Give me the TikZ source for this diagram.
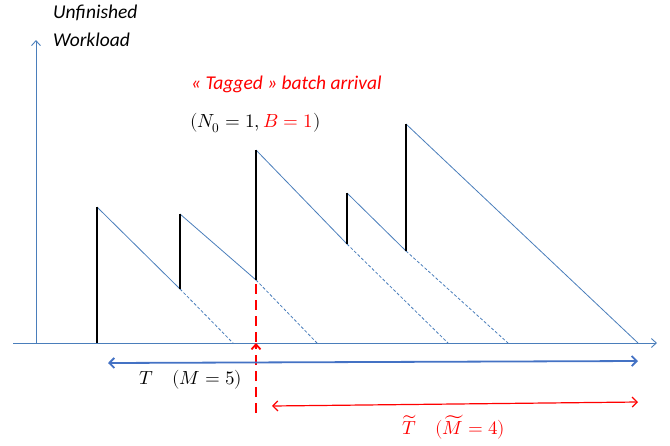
\documentclass[tikz,border=0pt]{standalone}
\usepackage{fontspec}
\usepackage{unicode-math}
\setmainfont{Carlito}
\setmathfont{Latin Modern Math}
\usetikzlibrary{arrows.meta}
\definecolor{lineblue}{RGB}{74,126,187}
\definecolor{arrowblue}{RGB}{68,114,196}
\definecolor{tagred}{RGB}{255,0,0}
\tikzset{
  axisline/.style={lineblue, line width=0.9pt, -{Straight Barb[length=5pt,width=9pt]}},
  decay/.style={lineblue, line width=0.8pt},
  decaydash/.style={lineblue, line width=0.8pt, dash pattern=on 3pt off 2pt},
  jump/.style={black, line width=2.2pt},
  lbl/.style={font=\fontsize{19.5}{22}\selectfont\itshape, inner sep=0pt, anchor=west},
  mlbl/.style={font=\fontsize{19}{22}\selectfont, inner sep=0pt, anchor=west},
}
\begin{document}
\begin{tikzpicture}[x=1pt,y=-1pt]
\useasboundingbox (0,0) rectangle (670,445);
% axes
\coordinate (o) at (36,343);
\coordinate (ytop) at (36,40);
\coordinate (xl) at (13,343);
\coordinate (xr) at (657,343);
\draw[axisline] (o) -- (ytop);
\draw[axisline] (xl) -- (xr);
\node[lbl] (ul1) at (53,13) {Unfinished};
\node[lbl] (ul2) at (53,40) {Workload};
% sawtooth points
\coordinate (a0) at (97,343);  \coordinate (a1) at (97,207);
\coordinate (b0) at (180,289); \coordinate (b1) at (180,214);
\coordinate (c0) at (256,280); \coordinate (c1) at (256,150);
\coordinate (d0) at (347,244); \coordinate (d1) at (347,193);
\coordinate (e0) at (406,251); \coordinate (e1) at (406,124);
\coordinate (aend) at (233,343);
\coordinate (bend) at (317,343);
\coordinate (cend) at (448,343);
\coordinate (dend) at (508,343);
\coordinate (eend) at (638,343);
% decays
\draw[decay] (a1) -- (b0);
\draw[decaydash] (b0) -- (aend);
\draw[decay] (b1) -- (c0);
\draw[decaydash] (c0) -- (bend);
\draw[decay] (c1) -- (d0);
\draw[decaydash] (d0) -- (cend);
\draw[decay] (d1) -- (e0);
\draw[decaydash] (e0) -- (dend);
\draw[decay] (e1) -- (eend);
% jumps
\draw[jump] (a0) -- (a1);
\draw[jump] (b0) -- (b1);
\draw[jump] (c0) -- (c1);
\draw[jump] (d0) -- (d1);
\draw[jump] (e0) -- (e1);
% tagged arrival
\coordinate (rbot) at (256,413);
\coordinate (rax) at (256,343);
\coordinate (rtop) at (256,284);
\draw[tagred, line width=1.8pt, dash pattern=on 10pt off 6pt] (rtop) -- (rax);
\draw[tagred, line width=1.8pt, dash pattern=on 10pt off 6pt, -{Straight Barb[length=5pt,width=9pt]}] (rbot) -- (rax);
\node[lbl, text=tagred] (tag) at (191,84) {« Tagged » batch arrival};
\node[mlbl] (nb) at (190,123) {$(N_0=1,\textcolor{tagred}{B=1})$};
% T arrow
\coordinate (tl) at (108,363);
\coordinate (tr) at (638,361);
\draw[arrowblue, line width=1.8pt, {Straight Barb[length=5pt,width=10pt]}-{Straight Barb[length=5pt,width=10pt]}] (tl) -- (tr);
\node[mlbl] (tlab) at (139,380) {$T\quad(M=5)$};
% T tilde arrow
\coordinate (rl) at (272,406);
\coordinate (rr) at (638,402);
\draw[tagred, line width=1.2pt, {Straight Barb[length=5pt,width=10pt]}-{Straight Barb[length=5pt,width=10pt]}] (rl) -- (rr);
\node[mlbl, text=tagred, anchor=base west] (ttlab) at (402,434) {$\widetilde T\quad(\widetilde M=4)$};
\end{tikzpicture}
\end{document}
